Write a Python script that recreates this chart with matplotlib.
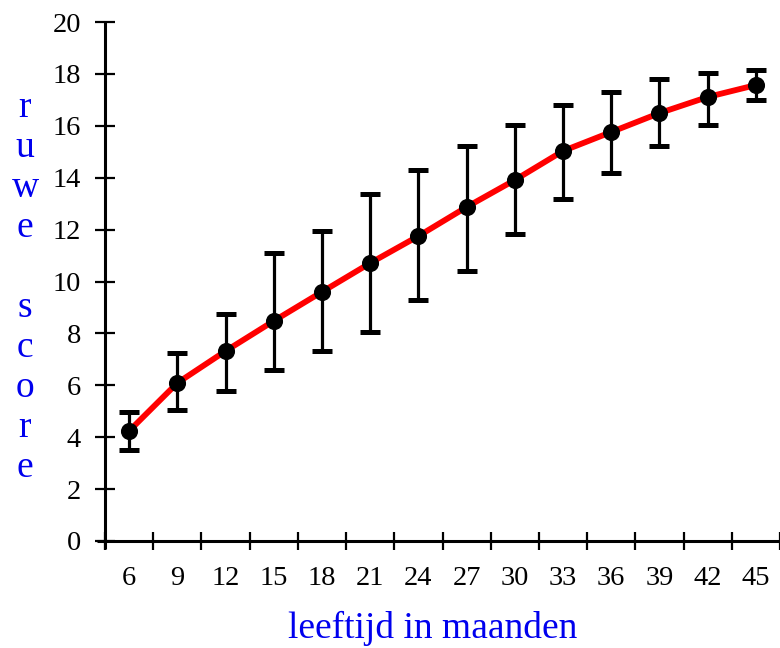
import matplotlib
matplotlib.use("Agg")
import matplotlib.pyplot as plt
from matplotlib.ticker import FixedLocator, NullFormatter

plt.rcParams['font.family'] = ['Liberation Serif', 'DejaVu Serif']

ages = [6, 9, 12, 15, 18, 21, 24, 27, 30, 33, 36, 39, 42, 45]
mean_score = [4.24, 6.09, 7.32, 8.48, 9.60, 10.71, 11.75, 12.87, 13.91, 15.03, 15.76, 16.49, 17.11, 17.57]
upper = [4.97, 7.24, 8.75, 11.10, 11.95, 13.37, 14.30, 15.22, 16.03, 16.80, 17.30, 17.80, 18.03, 18.15]
lower = [3.51, 5.05, 5.78, 6.59, 7.32, 8.05, 9.29, 10.40, 11.83, 13.18, 14.18, 15.22, 16.03, 16.99]
y_ticks = [0, 2, 4, 6, 8, 10, 12, 14, 16, 18, 20]
x_label = "leeftijd in maanden"
y_label_letters = ["r", "u", "w", "e", "", "s", "c", "o", "r", "e"]

W, H = 780, 648
fig = plt.figure(figsize=(W / 100, H / 100), dpi=100)
ax = fig.add_axes([105 / W, 1 - 541 / H, (780 - 105) / W, (541 - 22) / H])

pos = list(range(len(ages)))
err_lo = [m - l for m, l in zip(mean_score, lower)]
err_hi = [u - m for m, u in zip(mean_score, upper)]

ax.plot(pos, mean_score, color='#ff0000', lw=4.2, zorder=2, solid_capstyle='round')
ax.errorbar(pos, mean_score, yerr=[err_lo, err_hi], fmt='none', ecolor='black',
            elinewidth=2.3, capsize=7.2, capthick=3.6, zorder=3)
ax.plot(pos, mean_score, 'o', color='black', ms=11.3, zorder=4)

ax.set_xlim(-0.5, len(ages) - 0.5)
ax.set_ylim(0, 20)

for s in ['top', 'right']:
    ax.spines[s].set_visible(False)
for s in ['left', 'bottom']:
    ax.spines[s].set_linewidth(2.2)
    ax.spines[s].set_capstyle('butt')
ax.spines['left'].set_bounds(-0.3, 20)
ax.spines['bottom'].set_bounds(-0.67, len(ages) - 0.5)

ax.set_yticks(y_ticks)
ax.set_yticklabels([str(v) for v in y_ticks])
ax.tick_params(axis='y', direction='inout', length=14.4, width=1.6, labelsize=20.5, pad=10)

ax.xaxis.set_major_locator(FixedLocator([p - 0.5 for p in pos] + [len(ages) - 0.5]))
ax.xaxis.set_major_formatter(NullFormatter())
ax.xaxis.set_minor_locator(FixedLocator(pos))
ax.set_xticklabels([str(a) for a in ages], minor=True)
ax.tick_params(axis='x', which='major', direction='inout', length=13, width=1.6)
ax.tick_params(axis='x', which='minor', length=0, labelsize=20.5, pad=18)

fig.text(433 / W, 1 - 628 / H, x_label, color='#0000ee', fontsize=27,
         ha='center', va='center')
for i, ch in enumerate(y_label_letters):
    if ch:
        fig.text(25 / W, 1 - (108 + 40 * i) / H, ch, color='#0000ee', fontsize=27,
                 ha='center', va='center')

fig.savefig('out.png', dpi=100)
